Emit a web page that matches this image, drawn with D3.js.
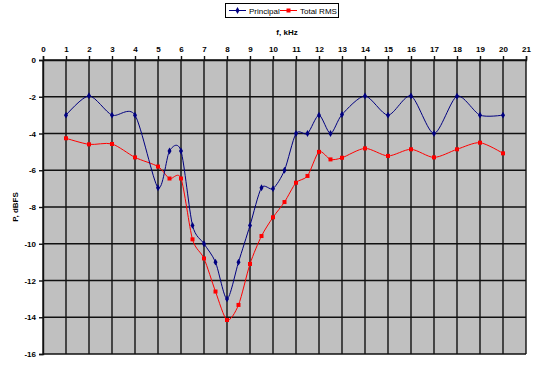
<!DOCTYPE html>
<html><head><meta charset="utf-8">
<script src="https://cdn.jsdelivr.net/npm/d3@7"></script>
<style>body{margin:0;background:#fff}svg{display:block;font-family:"Liberation Sans",Arial,sans-serif}</style>
</head><body>
<svg id="c" width="540" height="370"></svg>
<script>
const freq = [1,2,3,4,5,5.5,6,6.5,7,7.5,8,8.5,9,9.5,10,10.5,11,11.5,12,12.5,13,14,15,16,17,18,19,20];
const principal = [-3,-1.95,-3,-3,-6.95,-4.95,-4.95,-9,-10,-11,-13,-11,-9,-6.95,-7,-6,-4,-4,-3,-4,-2.97,-1.96,-3,-1.96,-4,-1.97,-3,-3];
const totalRms = [-4.26,-4.59,-4.57,-5.3,-5.8,-6.45,-6.45,-9.76,-10.8,-12.6,-14.15,-13.33,-11.1,-9.58,-8.56,-7.73,-6.68,-6.31,-5,-5.41,-5.32,-4.81,-5.22,-4.86,-5.3,-4.86,-4.5,-5.08];
const xTicks = d3.range(0,22,1);
const yTicks = [0,-2,-4,-6,-8,-10,-12,-14,-16];
const seriesNames = ["Principal","Total RMS"];

const svg = d3.select("#c");
const L=43, R=526, T=60, B=354;
const x = d3.scaleLinear().domain([0,21]).range([L,R]);
const y = d3.scaleLinear().domain([0,-16]).range([T,B]);

svg.append("rect").attr("x",L).attr("y",T).attr("width",R-L).attr("height",B-T).attr("fill","#c0c0c0");
const grid = svg.append("g").attr("stroke","#111").attr("stroke-width",1.4);
grid.selectAll(".v").data(xTicks).join("line").attr("x1",d=>x(d)).attr("x2",d=>x(d)).attr("y1",T).attr("y2",B);
grid.selectAll(".h").data(yTicks).join("line").attr("x1",L).attr("x2",R).attr("y1",d=>y(d)).attr("y2",d=>y(d));

const xa = svg.append("g").attr("transform",`translate(0,${T})`)
  .call(d3.axisTop(x).tickValues(xTicks).tickSize(4).tickPadding(4).tickFormat(d3.format("d")));
const ya = svg.append("g").attr("transform",`translate(${L},0)`)
  .call(d3.axisLeft(y).tickValues(yTicks).tickSize(4).tickPadding(3).tickFormat(d=>d===0?"0":d3.format("d")(d).replace("−","-")));
[xa,ya].forEach(a=>{a.select(".domain").attr("stroke","#111").attr("stroke-width",1.4);
  a.selectAll(".tick line").attr("stroke","#111").attr("stroke-width",1.4);
  a.selectAll("text").attr("font-size",8).attr("font-weight","bold").attr("fill","#000").attr("font-family","Liberation Sans, Arial, sans-serif");});

svg.append("text").attr("x",287).attr("y",35).attr("text-anchor","middle").attr("font-size",8).attr("font-weight","bold").text("f, kHz");
svg.append("text").attr("transform",`translate(18,${(T+B)/2}) rotate(-90)`).attr("text-anchor","middle").attr("font-size",8).attr("font-weight","bold").text("P, dBFS");

const line = d3.line().x(d=>x(d[0])).y(d=>y(d[1])).curve(d3.curveCardinal.tension(0.2));
const pData = freq.map((f,i)=>[f,principal[i]]);
const rData = freq.map((f,i)=>[f,totalRms[i]]);

svg.append("path").datum(rData).attr("d",line).attr("fill","none").attr("stroke","#ff0000").attr("stroke-width",1);
svg.selectAll(".rm").data(rData).join("rect").attr("x",d=>x(d[0])-2).attr("y",d=>y(d[1])-2).attr("width",4).attr("height",4).attr("fill","#ff0000");
svg.append("path").datum(pData).attr("d",line).attr("fill","none").attr("stroke","#000080").attr("stroke-width",1);
const dia = d3.symbol().type(d3.symbolDiamond).size(14);
svg.selectAll(".pm").data(pData).join("path").attr("d",dia).attr("transform",d=>`translate(${x(d[0])},${y(d[1])})`).attr("fill","#000080");

// legend
const lg = svg.append("g");
lg.append("rect").attr("x",225.5).attr("y",3.5).attr("width",113).attr("height",14).attr("fill","#fff").attr("stroke","#000");
lg.append("line").attr("x1",229).attr("x2",246).attr("y1",10.5).attr("y2",10.5).attr("stroke","#000080");
lg.append("path").attr("d",dia).attr("transform","translate(237.5,10.5)").attr("fill","#000080");
lg.append("text").attr("x",249).attr("y",13.5).attr("font-size",8).text(seriesNames[0]);
lg.append("line").attr("x1",280).attr("x2",297).attr("y1",10.5).attr("y2",10.5).attr("stroke","#ff0000");
lg.append("rect").attr("x",286.5).attr("y",8.5).attr("width",4).attr("height",4).attr("fill","#ff0000");
lg.append("text").attr("x",300).attr("y",13.5).attr("font-size",8).text(seriesNames[1]);
</script>
</body></html>
